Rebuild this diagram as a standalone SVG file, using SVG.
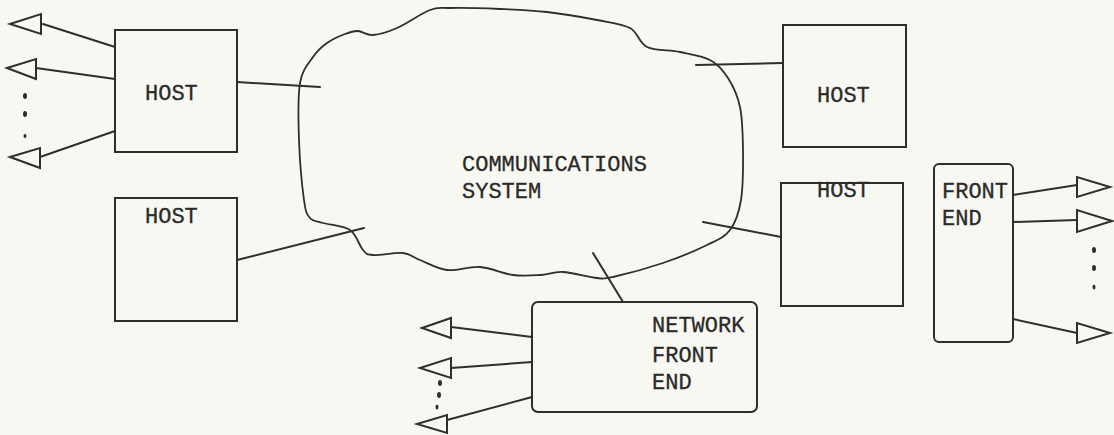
<svg xmlns="http://www.w3.org/2000/svg" width="1114" height="435" viewBox="0 0 1114 435">
<style>
.bg{fill:#f8f8f2}
.box{fill:none;stroke:#2e2e2e;stroke-width:2}
.ln{fill:none;stroke:#2e2e2e;stroke-width:2;stroke-linecap:round}
.tri{fill:none;stroke:#2e2e2e;stroke-width:2;stroke-linejoin:miter}
.cloud{fill:none;stroke:#2e2e2e;stroke-width:1.8;stroke-linejoin:round}
.dot{fill:#2e2e2e}
text{font-family:"Liberation Mono","Courier New",monospace;font-size:22px;fill:#2a2a2a;stroke:#2a2a2a;stroke-width:0.3}
</style>
<rect class="bg" x="0" y="0" width="1114" height="435"/>

<g id="comm-system">
<path class="cloud" d="M300,83 C302.3,69.2 308.5,63.7 313,57 C317.5,50.3 321.7,46.8 327,43 C332.3,39.2 339.8,36 345,34 C350.2,32 353.3,30.8 358,31 C362.7,31.2 366.5,35.5 373,35 C379.5,34.5 387.5,32.2 397,28 C406.5,23.8 421.2,13.3 430,10 C438.8,6.7 438.3,8.2 450,8 C461.7,7.8 483.8,8.3 500,9 C516.2,9.7 530.8,10.2 547,12 C563.2,13.8 583.2,17.3 597,20 C610.8,22.7 621.7,23.5 630,28 C638.3,32.5 638.7,43 647,47 C655.3,51 669.5,49.8 680,52 C690.5,54.2 702,55.7 710,60 C718,64.3 723,70.2 728,78 C733,85.8 737.5,95 740,107 C742.5,119 742.8,134.5 743,150 C743.2,165.5 743.2,186.7 741,200 C738.8,213.3 735.7,222.5 730,230 C724.3,237.5 718.2,239.5 707,245 C695.8,250.5 678.7,257.7 663,263 C647.3,268.3 624,274.5 613,277 C602,279.5 605.3,278.8 597,278 C588.7,277.2 572.5,272.5 563,272 C553.5,271.5 548.3,274.5 540,275 C531.7,275.5 523,276.3 513,275 C503,273.7 491,267.8 480,267 C469,266.2 457,271.2 447,270 C437,268.8 427.3,262.8 420,260 C412.7,257.2 410.8,253.8 403,253 C395.2,252.2 379.7,255.5 373,255 C366.3,254.5 366.8,254.2 363,250 C359.2,245.8 356.7,234.5 350,230 C343.3,225.5 329.7,225 323,223 C316.3,221 313.2,221.8 310,218 C306.8,214.2 305.8,213 304,200 C302.2,187 299.7,159.5 299,140 C298.3,120.5 297.7,96.8 300,83 Z"/>
<text x="462" y="171">COMMUNICATIONS</text>
<text x="462" y="198">SYSTEM</text>
</g>

<g id="host-left-top">
<rect class="box" x="115" y="30" width="122" height="122"/>
<text x="145" y="100">HOST</text>
</g>

<g id="host-left-bottom">
<rect class="box" x="115" y="198" width="122" height="123"/>
<text x="145" y="223">HOST</text>
</g>

<g id="host-right-top">
<rect class="box" x="783" y="25" width="123" height="122"/>
<text x="817" y="102">HOST</text>
</g>

<g id="host-right-bottom">
<rect class="box" x="781" y="183" width="122" height="123"/>
<text x="817" y="197">HOST</text>
</g>

<g id="front-end">
<rect class="box" x="934" y="164" width="79" height="178" rx="5"/>
<text x="942" y="198">FRONT</text>
<text x="942" y="225">END</text>
</g>

<g id="network-front-end">
<rect class="box" x="532" y="302" width="225" height="110" rx="6"/>
<text x="652" y="332">NETWORK</text>
<text x="652" y="362">FRONT</text>
<text x="652" y="389">END</text>
</g>

<g id="connectors">
<line class="ln" x1="237" y1="82" x2="320" y2="87"/>
<line class="ln" x1="237" y1="260" x2="364" y2="228"/>
<line class="ln" x1="696" y1="65" x2="783" y2="63"/>
<line class="ln" x1="703" y1="222" x2="781" y2="237"/>
<line class="ln" x1="623" y1="302" x2="593" y2="253"/>

<!-- left host outputs -->
<line class="ln" x1="115" y1="47" x2="43" y2="24"/>
<polygon class="tri" points="10,24 41,14 41,34"/>
<line class="ln" x1="115" y1="79" x2="36" y2="68"/>
<polygon class="tri" points="7,68 36,59 36,79"/>
<line class="ln" x1="115" y1="131" x2="40" y2="157"/>
<polygon class="tri" points="10,157 40,148 40,168"/>
<ellipse class="dot" cx="25" cy="96" rx="2" ry="3"/>
<ellipse class="dot" cx="25" cy="114" rx="2" ry="3"/>
<ellipse class="dot" cx="25" cy="136" rx="1.5" ry="2"/>

<!-- network front end outputs -->
<line class="ln" x1="532" y1="337" x2="451" y2="327"/>
<polygon class="tri" points="422,328 451,318 451,338"/>
<line class="ln" x1="532" y1="362" x2="451" y2="368"/>
<polygon class="tri" points="420,368 451,358 451,378"/>
<line class="ln" x1="532" y1="397" x2="447" y2="420"/>
<polygon class="tri" points="417,424 447,415 447,433"/>
<ellipse class="dot" cx="440" cy="383" rx="2" ry="3"/>
<ellipse class="dot" cx="439" cy="395" rx="2" ry="3"/>
<ellipse class="dot" cx="437" cy="407" rx="1.5" ry="2.5"/>

<!-- front end outputs -->
<line class="ln" x1="1013" y1="195" x2="1077" y2="185"/>
<polygon class="tri" points="1110,187 1077,177 1077,197"/>
<line class="ln" x1="1013" y1="222" x2="1077" y2="220"/>
<polygon class="tri" points="1112,221 1077,210 1077,232"/>
<line class="ln" x1="1013" y1="319" x2="1077" y2="333"/>
<polygon class="tri" points="1110,333 1077,323 1077,343"/>
<ellipse class="dot" cx="1094" cy="250" rx="2" ry="3"/>
<ellipse class="dot" cx="1094" cy="268" rx="2" ry="3"/>
<ellipse class="dot" cx="1094" cy="287" rx="1.5" ry="2.5"/>
</g>
</svg>
